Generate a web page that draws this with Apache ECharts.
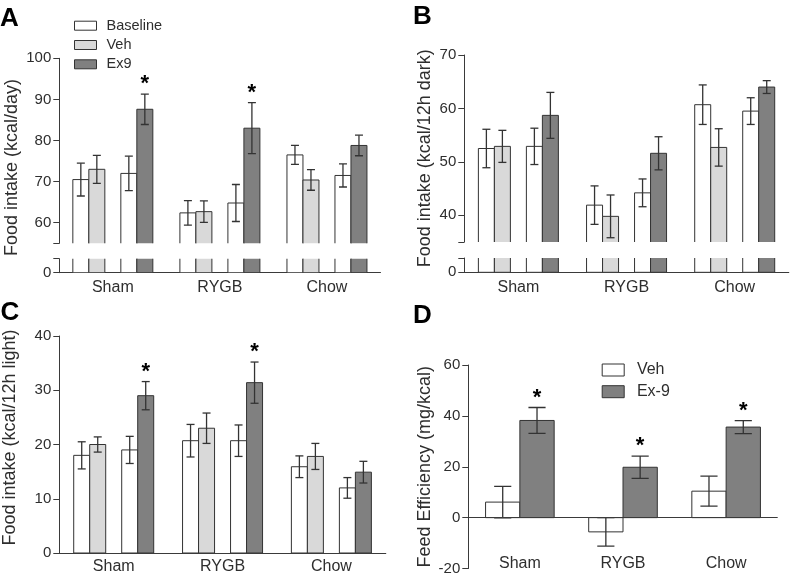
<!DOCTYPE html>
<html><head><meta charset="utf-8">
<script src="https://cdn.jsdelivr.net/npm/echarts@6/dist/echarts.min.js"></script>
<style>html,body{margin:0;padding:0;background:#fff}#c{width:794px;height:576px}</style>
</head><body><div id="c"></div>
<script>
// ---------- DATA ----------
const groups = ['Sham', 'RYGB', 'Chow'];

// Panel A: Food intake (kcal/day)
const aBaseVeh = [70.5, 62.4, 76.5];
const aBaseVehErr = [4.0, 3.0, 2.3];
const aVeh = [73.0, 62.7, 70.4];
const aVehErr = [3.4, 2.6, 2.5];
const aBaseEx = [72.0, 64.8, 71.5];
const aBaseExErr = [4.2, 4.5, 2.8];
const aEx9 = [87.6, 83.0, 78.8];
const aEx9Err = [3.7, 6.2, 2.5];
const aStars = [1, 1, 0];
const aTickLabels = [60, 70, 80, 90, 100];

// Panel B: Food intake (kcal/12h dark)
const bBaseVeh = [52.5, 41.9, 60.7];
const bBaseVehErr = [3.6, 3.6, 3.7];
const bVeh = [52.9, 39.8, 52.7];
const bVehErr = [3.0, 4.0, 3.5];
const bBaseEx = [52.9, 44.2, 59.5];
const bBaseExErr = [3.4, 2.6, 2.5];
const bEx9 = [58.7, 51.6, 64.0];
const bEx9Err = [4.3, 3.1, 1.2];
const bStars = [0, 0, 0];
const bTickLabels = [40, 50, 60, 70];

// Panel C: Food intake (kcal/12h light)
const cBaseVeh = [18.0, 20.7, 15.9];
const cBaseVehErr = [2.5, 3.0, 2.0];
const cVeh = [20.0, 23.0, 17.8];
const cVehErr = [1.4, 2.8, 2.4];
const cBaseEx = [19.0, 20.7, 12.0];
const cBaseExErr = [2.5, 2.9, 1.9];
const cEx9 = [29.0, 31.4, 14.9];
const cEx9Err = [2.6, 3.8, 2.0];
const cStars = [1, 1, 0];

// Panel D: Feed Efficiency (mg/kcal)
const dVeh = [6.1, -5.6, 10.4];
const dVehErr = [6.2, 5.6, 5.9];
const dEx9 = [38.2, 19.8, 35.6];
const dEx9Err = [5.1, 4.4, 2.55];
const dStars = [1, 1, 1];

// ---------- STYLE ----------
const FONT = 'Arial, "Liberation Sans", Helvetica, sans-serif';
const INK = '#2e2e2e';
const AXIS = '#3a3a3a';
const EDGE = '#333333';
const FILL = { base: '#ffffff', veh: '#d9d9d9', ex: '#808080' };

const grids = [], xAxes = [], yAxes = [], series = [];

function addCartesian(gridCfg, xCfg, yCfg) {
  grids.push(Object.assign({ containLabel: false }, gridCfg));
  const gi = grids.length - 1;
  xAxes.push(Object.assign({ gridIndex: gi, type: 'category', data: groups }, xCfg));
  yAxes.push(Object.assign({ gridIndex: gi, type: 'value', splitLine: { show: false } }, yCfg));
  return gi;
}

function yAx(min, max, ticks, labels) {
  return {
    min, max,
    axisLine: { show: true, lineStyle: { color: AXIS, width: 1 } },
    axisTick: { show: true, length: 6, customValues: ticks, lineStyle: { color: AXIS, width: 1 } },
    axisLabel: { customValues: labels, fontSize: 15, color: INK, margin: 8, fontFamily: FONT },
    splitLine: { show: false }
  };
}
const xHidden = { show: false };
const xShown = (margin) => ({
  axisLine: { show: true, onZero: true, lineStyle: { color: AXIS, width: 1 } },
  axisTick: { show: false },
  axisLabel: { fontSize: 16, color: INK, margin, fontFamily: FONT }
});

function frame(gridCfg, name, gap) {
  addCartesian(gridCfg, xHidden, {
    show: true, min: 0, max: 1,
    axisLine: { show: false }, axisTick: { show: false }, axisLabel: { show: false },
    name, nameLocation: 'middle', nameGap: gap,
    nameTextStyle: { fontSize: 18, color: INK, fontFamily: FONT }
  });
}

function barSeries(ax, name, fill, vals, errs, stars, slot, nSlots, barW, extra) {
  const data = vals.map((v, i) => [i, v, errs[i], stars ? stars[i] : 0]);
  return Object.assign({
    type: 'custom', name, xAxisIndex: ax, yAxisIndex: ax, clip: true, silent: true,
    itemStyle: { color: fill, borderColor: EDGE, borderWidth: 1 },
    encode: { x: 0, y: 1 },
    data,
    renderItem: function (params, api) {
      const cat = api.value(0), v = api.value(1), e = api.value(2), s = api.value(3);
      const p = api.coord([cat, v]);
      const p0 = api.coord([cat, 0]);
      const x0 = p[0] - nSlots * barW / 2 + slot * barW;
      const xc = x0 + barW / 2;
      const yT = api.coord([cat, v + e])[1];
      const yB = api.coord([cat, v - e])[1];
      const cap = barW / 2;
      const ls = { stroke: '#333', lineWidth: 1.3 };
      const children = [
        { type: 'rect', shape: { x: x0, y: Math.min(p[1], p0[1]), width: barW, height: Math.abs(p0[1] - p[1]) },
          style: { fill: fill, stroke: EDGE, lineWidth: 1 } },
        { type: 'line', shape: { x1: xc, y1: yT, x2: xc, y2: yB }, style: ls },
        { type: 'line', shape: { x1: xc - cap / 2, y1: yT, x2: xc + cap / 2, y2: yT }, style: ls },
        { type: 'line', shape: { x1: xc - cap / 2, y1: yB, x2: xc + cap / 2, y2: yB }, style: ls }
      ];
      if (s) {
        children.push({ type: 'text', x: xc, y: yT - 10,
          style: { text: '*', fill: '#000', font: 'bold 22px ' + FONT, align: 'center', verticalAlign: 'middle' } });
      }
      return { type: 'group', children };
    }
  }, extra || {});
}

function fourBars(ax, sets, stars, barW) {
  const slots = [0, 1, 3, 4];
  sets.forEach((s, k) => series.push(barSeries(ax, s[0], s[1], s[2], s[3], k === 3 ? stars : null, slots[k], 5, barW)));
}

// ---------- PANEL A (broken axis) ----------
const aUp = addCartesian({ left: 59.3, top: 58.3, width: 321.2, height: 185 }, xHidden,
  yAx(55, 100, [55, 60, 70, 80, 90, 100], aTickLabels));
const aLo = addCartesian({ left: 59.3, top: 258.7, width: 321.2, height: 14 }, xShown(7),
  yAx(0, 3.4, [0, 3.4], [0]));
frame({ left: 59.3, top: 62, width: 321.2, height: 211 }, 'Food intake (kcal/day)', 38);
const aSets = [['Baseline', FILL.base, aBaseVeh, aBaseVehErr], ['Veh', FILL.veh, aVeh, aVehErr],
               ['Baseline', FILL.base, aBaseEx, aBaseExErr], ['Ex9', FILL.ex, aEx9, aEx9Err]];
fourBars(aUp, aSets, aStars, 16);
fourBars(aLo, aSets, null, 16);

// ---------- PANEL B (broken axis) ----------
const bUp = addCartesian({ left: 464.3, top: 55, width: 324.5, height: 187 }, xHidden,
  yAx(35, 70, [35, 40, 50, 60, 70], bTickLabels));
const bLo = addCartesian({ left: 464.3, top: 258, width: 324.5, height: 14.3 }, xShown(7),
  yAx(0, 2.68, [0, 2.68], [0]));
frame({ left: 464.3, top: 50, width: 324.5, height: 216.6 }, 'Food intake (kcal/12h dark)', 30);
const bSets = [['Baseline', FILL.base, bBaseVeh, bBaseVehErr], ['Veh', FILL.veh, bVeh, bVehErr],
               ['Baseline', FILL.base, bBaseEx, bBaseExErr], ['Ex9', FILL.ex, bEx9, bEx9Err]];
fourBars(bUp, bSets, bStars, 16);
fourBars(bLo, bSets, null, 16);

// ---------- PANEL C ----------
const cAx = addCartesian({ left: 59.3, top: 336, width: 326.5, height: 217 }, xShown(6),
  Object.assign(yAx(0, 40, null, null), { interval: 10, axisTick: { show: true, length: 6, lineStyle: { color: AXIS } },
    axisLabel: { fontSize: 15, color: INK, margin: 8, fontFamily: FONT } }));
frame({ left: 59.3, top: 322, width: 326.5, height: 231 }, 'Food intake (kcal/12h light)', 40);
fourBars(cAx, [['Baseline', FILL.base, cBaseVeh, cBaseVehErr], ['Veh', FILL.veh, cVeh, cVehErr],
               ['Baseline', FILL.base, cBaseEx, cBaseExErr], ['Ex9', FILL.ex, cEx9, cEx9Err]], cStars, 16);

// ---------- PANEL D ----------
const dAx = addCartesian({ left: 468.3, top: 365, width: 309.4, height: 204.3 },
  { axisLine: { show: false, onZero: false }, axisTick: { show: false },
    axisLabel: { fontSize: 16, color: INK, margin: -13, fontFamily: FONT } },
  Object.assign(yAx(-20, 60, null, null), { interval: 20, axisLine: { show: true, onZero: false, lineStyle: { color: AXIS } },
    axisTick: { show: true, length: 6, lineStyle: { color: AXIS } },
    axisLabel: { fontSize: 15, color: INK, margin: 8, fontFamily: FONT },
    name: 'Feed Efficiency (mg/kcal)', nameLocation: 'middle', nameGap: 34,
    nameTextStyle: { fontSize: 18, color: INK, fontFamily: FONT } }));
series.push(barSeries(dAx, 'Veh ', FILL.base, dVeh, dVehErr, null, 0, 2, 34.3, {
  markLine: { silent: true, symbol: 'none', label: { show: false },
    lineStyle: { color: AXIS, type: 'solid', width: 1 }, data: [{ yAxis: 0 }] }
}));
series.push(barSeries(dAx, 'Ex-9', FILL.ex, dEx9, dEx9Err, dStars, 1, 2, 34.3));

// ---------- OPTION ----------
const letter = (t, left, top) => ({ text: t, left, top, padding: 0,
  textStyle: { fontSize: 26, fontWeight: 'bold', color: '#000', fontFamily: FONT } });

const option = {
  animation: false,
  backgroundColor: '#ffffff',
  textStyle: { fontFamily: FONT },
  title: [letter('A', 0, 5.5), letter('B', 413, 4), letter('C', 0.5, 300), letter('D', 413, 303)],
  legend: [
    { left: 74, top: 17.7, orient: 'vertical', icon: 'rect', itemWidth: 22, itemHeight: 9, itemGap: 3.3, padding: 0,
      selectedMode: false,
      textStyle: { fontSize: 14.5, color: INK, lineHeight: 16, padding: [0, 0, 0, 5], fontFamily: FONT },
      data: [
        { name: 'Baseline', itemStyle: { color: FILL.base, borderColor: EDGE, borderWidth: 1 } },
        { name: 'Veh', itemStyle: { color: FILL.veh, borderColor: EDGE, borderWidth: 1 } },
        { name: 'Ex9', itemStyle: { color: FILL.ex, borderColor: EDGE, borderWidth: 1 } }
      ] },
    { left: 601.7, top: 361, orient: 'vertical', icon: 'rect', itemWidth: 22, itemHeight: 12, itemGap: 3.7, padding: 0,
      selectedMode: false,
      textStyle: { fontSize: 16, color: INK, lineHeight: 18, padding: [0, 0, 0, 7.7], fontFamily: FONT },
      data: [
        { name: 'Veh ', itemStyle: { color: FILL.base, borderColor: EDGE, borderWidth: 1 } },
        { name: 'Ex-9', itemStyle: { color: FILL.ex, borderColor: EDGE, borderWidth: 1 } }
      ] }
  ],
  grid: grids, xAxis: xAxes, yAxis: yAxes, series
};

const chart = echarts.init(document.getElementById('c'), null, { renderer: 'canvas' });
chart.setOption(option);
</script></body></html>
